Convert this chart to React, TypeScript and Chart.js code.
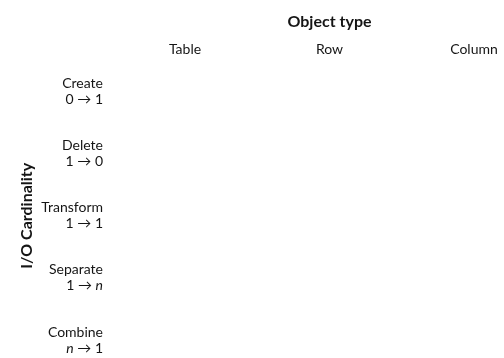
import React, { useEffect, useRef } from 'react';
import { Chart, registerables } from 'chart.js';

Chart.register(...registerables);

// ---- data ----
const objectTypes = ['Table', 'Row', 'Column'];
const operations = ['Create', 'Delete', 'Transform', 'Separate', 'Combine'];
const cardinalities = ['0 → 1', '1 → 0', '1 → 1', '1 → n', 'n → 1'];
const xAxisTitle = 'Object type';
const yAxisTitle = 'I/O Cardinality';
// the reference grid holds no marks
const cells: { x: string; y: string }[] = [];

const FONT = 'Lato, "DejaVu Sans", sans-serif';
const TEXT = '#151515';
const TICK_SIZE = 14;
const LINE_H = 16;
const Y_TICK_PAD = 82;

const richYLabels = {
  id: 'richYLabels',
  afterDraw(chart: any) {
    const y = chart.scales.y;
    const area = chart.chartArea;
    const ctx = chart.ctx as CanvasRenderingContext2D;
    ctx.save();
    ctx.fillStyle = TEXT;
    ctx.textBaseline = 'middle';
    ctx.textAlign = 'right';
    const xr = area.left - Y_TICK_PAD;
    operations.forEach((op, i) => {
      const py = y.getPixelForTick(i);
      ctx.font = `${TICK_SIZE}px ${FONT}`;
      ctx.fillText(op, xr, py - LINE_H / 2);
      const tokens = cardinalities[i].split(/(n)/).filter((t) => t.length > 0);
      let x = xr;
      for (let k = tokens.length - 1; k >= 0; k--) {
        const t = tokens[k];
        ctx.font = `${t === 'n' ? 'italic ' : ''}${TICK_SIZE}px ${FONT}`;
        ctx.fillText(t, x, py + LINE_H / 2);
        x -= ctx.measureText(t).width;
      }
    });
    ctx.restore();
  },
};

export default function App() {
  const ref = useRef<HTMLCanvasElement | null>(null);

  useEffect(() => {
    if (!ref.current) return;
    const chart = new Chart(ref.current, {
      type: 'line',
      data: {
        datasets: [
          {
            label: 'cells',
            data: cells as any,
            showLine: false,
            pointRadius: 0,
          },
        ],
      },
      options: {
        animation: false,
        responsive: true,
        maintainAspectRatio: false,
        layout: { padding: { top: 0, left: 0, right: 30, bottom: 18 } },
        plugins: {
          legend: { display: false },
          tooltip: { enabled: false },
        },
        scales: {
          x: {
            type: 'category',
            labels: objectTypes,
            position: 'top',
            offset: false,
            grid: { display: false, drawTicks: false },
            border: { display: false },
            ticks: {
              color: TEXT,
              font: { family: FONT, size: TICK_SIZE },
              padding: 34,
              maxRotation: 0,
              autoSkip: false,
            },
            title: {
              display: true,
              text: xAxisTitle,
              color: TEXT,
              font: { family: FONT, size: 16, weight: 'bold' },
              padding: { top: 12, bottom: 4 },
            },
            afterFit: (s: any) => {
              s.height = 91.5;
              s.paddingLeft = 0;
              s.paddingRight = 0;
            },
          },
          y: {
            type: 'category',
            labels: operations,
            offset: false,
            grid: { display: false, drawTicks: false },
            border: { display: false },
            ticks: { display: false },
            title: {
              display: true,
              text: yAxisTitle,
              color: TEXT,
              font: { family: FONT, size: 16, weight: 'bold' },
              padding: { top: 17, bottom: 4 },
            },
            afterFit: (s: any) => {
              s.width = 185;
            },
          },
        },
      },
      plugins: [richYLabels],
    });
    return () => chart.destroy();
  }, []);

  return (
    <div style={{ position: 'absolute', left: 0, top: 0, width: 504, height: 358 }}>
      <canvas ref={ref} />
    </div>
  );
}
